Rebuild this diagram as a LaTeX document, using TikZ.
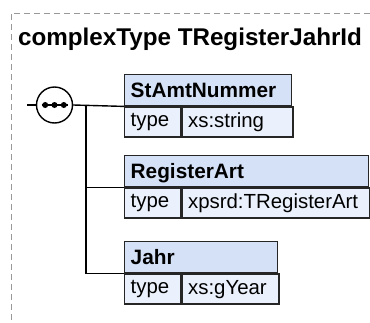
\documentclass[tikz,border=0pt]{standalone}
\usepackage{fontspec}
\setmainfont{Liberation Sans}
\begin{document}
\begin{tikzpicture}[x=1pt,y=-1pt,
  line width=1.4pt,
  frame/.style={draw=black!40, line width=0.9pt, dash pattern=on 6pt off 4pt},
  hdr/.style={draw=black!85, fill=hdrblue, anchor=north west, inner xsep=6pt, inner ysep=0pt,
    minimum height=31pt, text depth=0pt, font=\fontsize{20.8}{24}\selectfont\bfseries, align=left},
  cell/.style={draw=black!85, fill=rowblue, anchor=north west, inner xsep=6pt, inner ysep=0pt,
    minimum height=30pt, font=\fontsize{20.4}{24}\selectfont, align=left},
  seqc/.style={circle, draw=black, fill=white, minimum size=36pt, inner sep=0pt},
  conn/.style={draw=black, line width=1.4pt}
]
\definecolor{hdrblue}{HTML}{D5E1F7}
\definecolor{rowblue}{HTML}{EBF1FC}
\useasboundingbox (0,0) rectangle (370,322);
% dashed frame
\coordinate (fr1) at (370,13);
\coordinate (fr2) at (11,13);
\coordinate (fr3) at (11,322);
\draw[frame] (fr1) -- (fr2) -- (fr3);
% title
\node[anchor=base west, inner sep=0pt, font=\fontsize{24.2}{29}\selectfont\bfseries] (title) at (17.5,45) {complexType TRegisterJahrId};
% sequence compositor
\node[seqc] (seq) at (54.5,105) {};
\coordinate (in) at (27,105);
\coordinate (j) at (86,105);
\draw[conn] (in) -- (seq.west);
\draw[line width=1.6pt] ([xshift=-13pt]seq.center) -- ([xshift=13pt]seq.center);
\foreach \dx in {-9.3,0,9.3} \fill ([xshift=\dx pt]seq.center) circle (3pt);
% box 1
\node[hdr, minimum width=167pt, text width=155pt] (h1) at (124,74) {StAmtNummer};
\node[cell, minimum width=56pt, text width=44pt] (t1) at (h1.south west) {type};
\node[cell, minimum width=111pt, text width=99pt] (v1) at (t1.north east) {xs:string};
% box 2
\node[hdr, minimum width=244pt, text width=232pt] (h2) at (124,155) {RegisterArt};
\node[cell, minimum width=56pt, text width=44pt] (t2) at (h2.south west) {type};
\node[cell, minimum width=188pt, text width=176pt] (v2) at (t2.north east) {xpsrd:TRegisterArt};
% box 3
\node[hdr, minimum width=153pt, text width=141pt] (h3) at (124,241) {Jahr};
\node[cell, minimum width=56pt, text width=44pt] (t3) at (h3.south west) {type};
\node[cell, minimum width=97pt, text width=85pt] (v3) at (t3.north east) {xs:gYear};
% connectors
\draw[conn] (seq.east) -- (h1.south west);
\draw[conn] (j) |- (h2.south west);
\draw[conn] (j) |- (h3.south west);
\end{tikzpicture}
\end{document}
